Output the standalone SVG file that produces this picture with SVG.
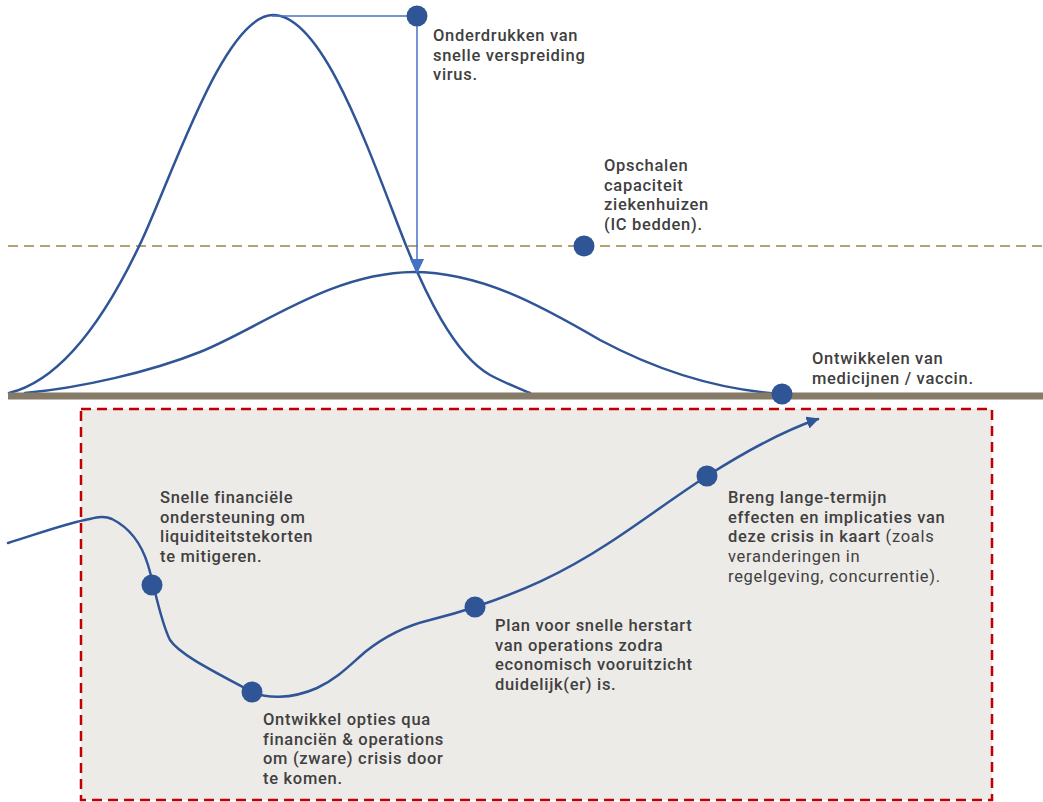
<svg xmlns="http://www.w3.org/2000/svg" width="1043" height="802" viewBox="0 0 1043 802">
<style>
.curve{fill:none;stroke:#2F5597;stroke-width:2.5;stroke-linejoin:round;stroke-linecap:round}
.dot{fill:#2F5597}
.lbl{font-family:Roboto,"Open Sans","Liberation Sans",sans-serif;font-size:16.5px;font-weight:500;letter-spacing:0.7px;fill:#404040}
.thin{font-weight:400}
.guide{fill:none;stroke:#4472C4;stroke-width:1.5}
</style>
<defs>
<marker id="arr" viewBox="0 0 10 10" refX="9" refY="5" markerWidth="5" markerHeight="5" orient="auto" markerUnits="strokeWidth">
<path d="M0,0 L10,5 L0,10 z" fill="#2F5597"/>
</marker>
</defs>
<rect width="1043" height="802" fill="#FFFFFF"/>
<g id="crisis-zone">
<rect x="81" y="409" width="911" height="391" fill="#EDEBE8" stroke="#C00000" stroke-width="2.5" stroke-dasharray="10 6"/>
</g>
<g id="ic-capacity-line">
<line x1="8" y1="246" x2="1043" y2="246" stroke="#9C8440" stroke-width="1.5" stroke-dasharray="10 6"/>
</g>
<g id="connectors">
<path class="curve" d="M9,393 C55,382 100,330 142,240 C174,171 225,15 273,15 C320,15 363,134 398,225 C425,296 455,355 490,375 C505,383 518,388 530,393"/>
<path class="curve" d="M25,393 C80,388 150,372 200,352 C260,328 330,273 413,272 C480,272 540,305 600,340 C660,372 720,390 782,394"/>
<line class="guide" x1="272" y1="16" x2="417" y2="16"/>
<line class="guide" x1="417" y1="16" x2="417" y2="260"/>
<path d="M410,259 L424,259 L417,274 z" fill="#4472C4"/>
<path class="curve" marker-end="url(#arr)" d="M8,543 C40,533 65,524 85,520 C95,518 103,515 112,519 C128,527 141,542 148,565 C155,588 160,620 170,640 C180,655 215,672 252,692 C265,698 290,700 317,688 C338,678 350,665 365,652 C385,636 405,626 430,620 C450,615 463,611 475,607 C520,592 560,575 609,543 C640,523 670,500 707,476 C740,455 780,432 818,419"/>
</g>
<g id="ground">
<line x1="8" y1="396" x2="1043" y2="396" stroke="#857B68" stroke-width="7"/>
</g>
<g id="node-onderdrukken">
<circle class="dot" cx="417" cy="16" r="10.5"/>
<text class="lbl" x="433" y="41">Onderdrukken van<tspan x="433" dy="19.5">snelle verspreiding</tspan><tspan x="433" dy="19.5">virus.</tspan></text>
</g>
<g id="node-opschalen">
<circle class="dot" cx="584" cy="246" r="10.5"/>
<text class="lbl" x="604" y="171">Opschalen<tspan x="604" dy="19.5">capaciteit</tspan><tspan x="604" dy="19.5">ziekenhuizen</tspan><tspan x="604" dy="19.5">(IC bedden).</tspan></text>
</g>
<g id="node-ontwikkelen">
<circle class="dot" cx="782" cy="394" r="10.5"/>
<text class="lbl" x="812" y="364">Ontwikkelen van<tspan x="812" dy="19.5">medicijnen / vaccin.</tspan></text>
</g>
<g id="node-snelle-financiele">
<circle class="dot" cx="152" cy="585" r="10.5"/>
<text class="lbl" x="160" y="503">Snelle financiële<tspan x="160" dy="19.7">ondersteuning om</tspan><tspan x="160" dy="19.7">liquiditeitstekorten</tspan><tspan x="160" dy="19.7">te mitigeren.</tspan></text>
</g>
<g id="node-ontwikkel-opties">
<circle class="dot" cx="252" cy="692" r="10.5"/>
<text class="lbl" x="263" y="725">Ontwikkel opties qua<tspan x="263" dy="19.7">financiën &amp; operations</tspan><tspan x="263" dy="19.7">om (zware) crisis door</tspan><tspan x="263" dy="19.7">te komen.</tspan></text>
</g>
<g id="node-plan-herstart">
<circle class="dot" cx="475" cy="607" r="10.5"/>
<text class="lbl" x="495" y="631">Plan voor snelle herstart<tspan x="495" dy="19.7">van operations zodra</tspan><tspan x="495" dy="19.7">economisch vooruitzicht</tspan><tspan x="495" dy="19.7">duidelijk(er) is.</tspan></text>
</g>
<g id="node-breng-lange-termijn">
<circle class="dot" cx="707" cy="476" r="10.5"/>
<text class="lbl" x="728" y="503">Breng lange-termijn<tspan x="728" dy="19.7">effecten en implicaties van</tspan><tspan x="728" dy="19.7">deze crisis in kaart</tspan><tspan class="thin"> (zoals</tspan><tspan class="thin" x="728" dy="19.7">veranderingen in</tspan><tspan class="thin" x="728" dy="19.7">regelgeving, concurrentie).</tspan></text>
</g>
</svg>
